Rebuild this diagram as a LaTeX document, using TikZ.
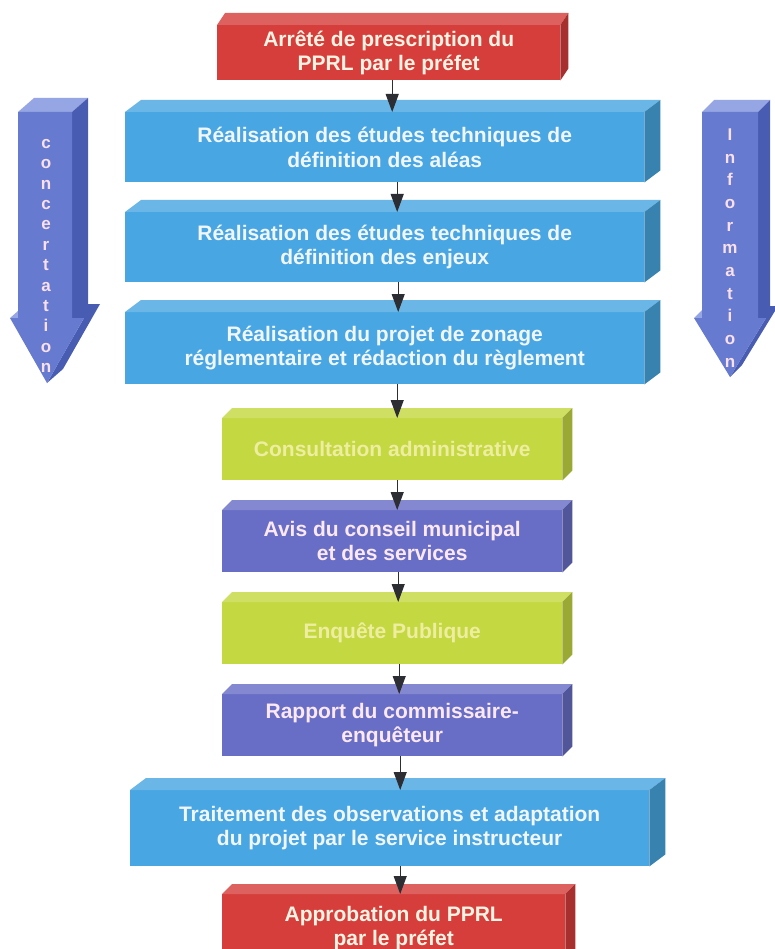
\documentclass[tikz,border=0pt]{standalone}
\usepackage{fontspec}
\setmainfont{Liberation Sans}
\usetikzlibrary{arrows.meta}
\definecolor{cRed}{RGB}{214,62,60}
\definecolor{cBlue}{RGB}{72,166,226}
\definecolor{cGreen}{RGB}{196,216,66}
\definecolor{cPurple}{RGB}{104,110,198}
\definecolor{tcRed}{RGB}{255,244,228}
\definecolor{tcBlue}{RGB}{240,246,252}
\definecolor{tcGreen}{RGB}{238,238,160}
\definecolor{tcPurple}{RGB}{252,232,242}
\definecolor{arFront}{RGB}{102,122,208}
\definecolor{arTop}{RGB}{150,166,228}
\definecolor{arSide}{RGB}{72,92,178}
\definecolor{arText}{RGB}{250,224,236}
\definecolor{connCol}{RGB}{45,45,52}
\tikzset{
  boxtext/.style={font=\bfseries\fontsize{21}{24.5}\selectfont, align=center, inner sep=0pt},
  sidetext/.style={font=\bfseries\fontsize{17}{20.4}\selectfont, align=center, inner sep=0pt, text=arText},
  conn/.style={draw=connCol, line width=1pt, -{Triangle[width=13pt,length=18pt]}},
}
% #1 name, #2 L, #3 T, #4 R, #5 B, #6 dx, #7 dy, #8 colour, #9 text
\newcommand\pbox[9]{%
  \node[boxtext, fill=#8, text=t#8, anchor=north west,
        minimum width={(#4-#2-#6)*1pt}, minimum height={(#5-#3-#7)*1pt}] (#1) at (#2,#3+#7) {#9};
  \fill[#8!82!white] (#1.north west) -- ++(#6,-#7) -- ([shift={(#6,-#7)}]#1.north east) -- (#1.north east) -- cycle;
  \fill[#8!78!black] (#1.north east) -- ++(#6,-#7) -- ([shift={(#6,-#7)}]#1.south east) -- (#1.south east) -- cycle;
}
\begin{document}
\begin{tikzpicture}[x=1pt,y=-1pt]
\useasboundingbox (0,0) rectangle (774,949);
\fill[white] (0,0) rectangle (774,949);

% side arrow: concertation
\fill[arTop] (18,112) -- (72,112) -- (88,98) -- (34,98) -- cycle;
\fill[arTop] (10,318) -- (18,318) -- (34,304) -- (26,304) -- cycle;
\fill[arSide] (72,112) -- (88,98) -- (88,304) -- (100,304) -- (63,369) -- (47,383) -- (84,318) -- (72,318) -- cycle;
\fill[arFront] (18,112) -- (72,112) -- (72,318) -- (84,318) -- (47,383) -- (10,318) -- (18,318) -- cycle;
\node[sidetext] (conc) at (46,256) {c\\o\\n\\c\\e\\r\\t\\a\\t\\i\\o\\n};

% side arrow: information
\fill[arTop] (702,112) -- (758,112) -- (770,100) -- (714,100) -- cycle;
\fill[arTop] (694,318) -- (702,318) -- (714,306) -- (706,306) -- cycle;
\fill[arSide] (758,112) -- (770,100) -- (770,306) -- (778,306) -- (742,365) -- (730,377) -- (766,318) -- (758,318) -- cycle;
\fill[arFront] (702,112) -- (758,112) -- (758,318) -- (766,318) -- (730,377) -- (694,318) -- (702,318) -- cycle;
\node[sidetext, font=\bfseries\fontsize{17}{22.7}\selectfont] (info) at (730,248) {I\\n\\f\\o\\r\\m\\a\\t\\i\\o\\n};

% boxes
\pbox{b1}{217}{13}{568}{80}{8}{12}{cRed}{Arrêté de prescription du\\PPRL par le préfet}
\pbox{b2}{125}{100}{660}{182}{16}{12}{cBlue}{Réalisation des études techniques de\\définition des aléas}
\pbox{b3}{125}{200}{660}{282}{16}{12}{cBlue}{Réalisation des études techniques de\\définition des enjeux}
\pbox{b4}{125}{300}{660}{384}{16}{12}{cBlue}{Réalisation du projet de zonage\\réglementaire et rédaction du règlement}
\pbox{b5}{222}{408}{572}{480}{10}{10}{cGreen}{Consultation administrative}
\pbox{b6}{222}{500}{572}{572}{10}{10}{cPurple}{Avis du conseil municipal\\et des services}
\pbox{b7}{222}{592}{572}{664}{10}{10}{cGreen}{Enquête Publique}
\pbox{b8}{222}{684}{572}{756}{10}{10}{cPurple}{Rapport du commissaire-\\enquêteur}
\pbox{b9}{130}{778}{665}{866}{16}{12}{cBlue}{Traitement des observations et adaptation\\du projet par le service instructeur}
\pbox{b10}{222}{884}{575}{962}{10}{10}{cRed}{Approbation du PPRL\\par le préfet}

% connectors
\draw[conn] ([xshift=3.5pt]b1.south) -- ([xshift=3.5pt]b1.south |- b2.north);
\draw[conn] ([xshift=12.5pt]b2.south) -- ([xshift=12.5pt]b2.south |- b3.north);
\draw[conn] ([xshift=13.5pt]b3.south) -- ([xshift=13.5pt]b3.south |- b4.north);
\draw[conn] ([xshift=12.5pt]b4.south) -- ([xshift=12.5pt]b4.south |- b5.north);
\draw[conn] ([xshift=5pt]b5.south) -- ([xshift=5pt]b5.south |- b6.north);
\draw[conn] ([xshift=6pt]b6.south) -- ([xshift=6pt]b6.south |- b7.north);
\draw[conn] ([xshift=7pt]b7.south) -- ([xshift=7pt]b7.south |- b8.north);
\draw[conn] ([xshift=8pt]b8.south) -- ([xshift=8pt]b8.south |- b9.north);
\draw[conn] ([xshift=10.5pt]b9.south) -- ([xshift=10.5pt]b9.south |- b10.north);
\end{tikzpicture}
\end{document}
